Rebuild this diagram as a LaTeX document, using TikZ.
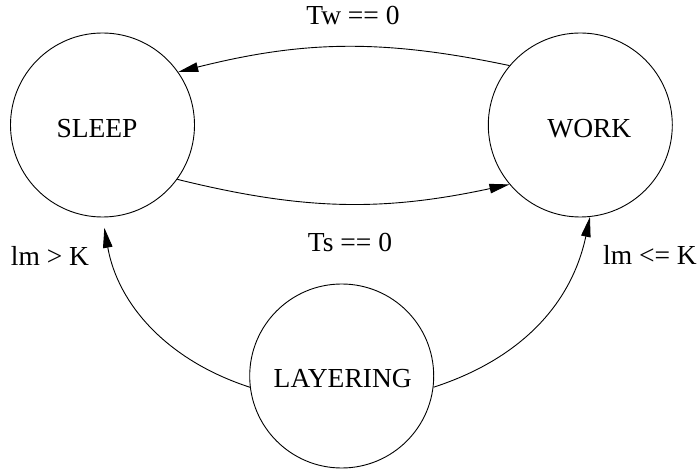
\documentclass[tikz,border=0pt]{standalone}
\usepackage{fontspec}
\setmainfont{Liberation Serif}
\usetikzlibrary{arrows.meta}
\tikzset{
  state/.style={circle, draw, line width=0.9pt, inner sep=0pt, minimum size=184pt},
  trans/.style={line width=0.9pt, -{Triangle[length=20pt, width=9.5pt]}}
}
\begin{document}
\begin{tikzpicture}[x=1pt, y=1pt, font=\fontsize{27.5}{32}\selectfont]
\useasboundingbox (0,0) rectangle (698,471);

\node[state, label={[xshift=-5.5pt, yshift=-3.5pt]center:SLEEP}] (sleep) at (102.5,346) {};
\node[state, label={[xshift=9pt, yshift=-3.5pt]center:WORK}] (work) at (580.3,346) {};
\node[state, label={[xshift=1pt, yshift=-3pt]center:LAYERING}] (layer) at (341.7,95) {};

\node (tw) at (353,456) {Tw == 0};
\node (ts) at (350,229) {Ts == 0};
\node (gt) at (50,215.5) {lm > K};
\node (le) at (650,216) {lm <= K};

\draw[trans] (work.140) to[bend right=13] (sleep.35);
\draw[trans] (sleep.-36) to[bend right=13] (work.220);
\draw[trans, shorten >=10.5pt] (layer.187) to[out=162, in=-80] (sleep.south);
\draw[trans] (layer.-7) to[out=18, in=-102] (work.-84);
\end{tikzpicture}
\end{document}
